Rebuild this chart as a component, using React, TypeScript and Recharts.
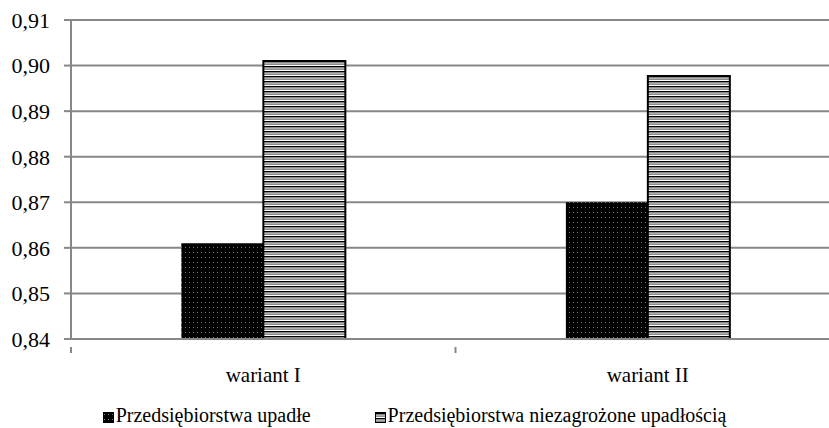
import React from 'react';
import { BarChart, Bar, XAxis, YAxis, CartesianGrid, Legend } from 'recharts';

const categories = ['wariant I', 'wariant II'];
const upadle = [0.861, 0.870];
const niezagrozone = [0.901, 0.8977];
const seriesNames = ['Przedsiębiorstwa upadłe', 'Przedsiębiorstwa niezagrożone upadłością'];
const yTicks = [0.84, 0.85, 0.86, 0.87, 0.88, 0.89, 0.9, 0.91];

const data = categories.map((c, i) => ({ name: c, upadle: upadle[i], niezagrozone: niezagrozone[i] }));

const FONT = 'Liberation Serif, Times New Roman, serif';
const GRID = '#878787';

const Patterns = () => (
  <svg width={0} height={0} style={{ position: 'absolute' }}>
    <defs>
      <pattern id="dotsPat" width={4} height={5} patternUnits="userSpaceOnUse">
        <rect width={4} height={5} fill="#000" />
        <rect x={1} y={2} width={1} height={1} fill="#7a7a7a" />
      </pattern>
      <pattern id="stripesPat" width={8} height={5} patternUnits="userSpaceOnUse">
        <rect width={8} height={5} fill="#8a8a8a" />
        <rect y={0} width={8} height={1} fill="#ffffff" />
        <rect y={1} width={8} height={1} fill="#000000" />
        <rect y={3} width={8} height={1} fill="#b0b0b0" />
      </pattern>
    </defs>
  </svg>
);

const XTick = (props: any) => {
  const { x, y, payload, index, width, visibleTicksCount } = props;
  const half = payload && typeof payload.offset === 'number' && payload.offset > 0
    ? payload.offset
    : width / (2 * (visibleTicksCount || categories.length));
  return (
    <g>
      {index === 0 && <line x1={x - half} y1={y} x2={x - half} y2={y + 6} stroke={GRID} strokeWidth={2} />}
      <line x1={x + half} y1={y} x2={x + half} y2={y + 6} stroke={GRID} strokeWidth={2} />
      <text x={x} y={y + 35} textAnchor="middle" fontFamily={FONT} fontSize={21} fill="#000">
        {payload.value}
      </text>
    </g>
  );
};

const YTick = (props: any) => {
  const { x, y, payload } = props;
  return (
    <text x={x} y={y} dy="0.36em" textAnchor="end" fontFamily={FONT} fontSize={22} fill="#000">
      {payload.value.toFixed(2).replace('.', ',')}
    </text>
  );
};

const LegendContent = () => (
  <div style={{ width: 829, height: 25, display: 'flex', justifyContent: 'center', gap: 64, fontFamily: FONT, fontSize: 20, color: '#000', lineHeight: '25px' }}>
    {seriesNames.map((n, i) => (
      <div key={n} style={{ display: 'flex', alignItems: 'center', gap: 2 }}>
        <svg width={11} height={11} style={{ marginTop: 3 }}>
          <rect x={0.5} y={0.5} width={10} height={10} fill={i === 0 ? 'url(#dotsPat)' : 'url(#stripesPat)'} stroke="#000" strokeWidth={1} />
        </svg>
        <span>{n}</span>
      </div>
    ))}
  </div>
);

export default function App() {
  return (
    <div style={{ position: 'fixed', left: 0, top: 0, width: 829, height: 428, overflow: 'hidden', background: '#fff', fontFamily: FONT }}>
      <Patterns />
      <BarChart
        width={845}
        height={428}
        data={data}
        margin={{ top: 20, right: 5, bottom: 0, left: 0 }}
        barCategoryGap="28.7%"
        barGap={0}
      >
        <CartesianGrid vertical={false} stroke={GRID} strokeWidth={2} />
        <XAxis
          dataKey="name"
          height={64}
          axisLine={{ stroke: GRID, strokeWidth: 2 }}
          tickLine={false}
          tick={<XTick />}
          interval={0}
        />
        <YAxis
          width={71}
          domain={[0.84, 0.91]}
          ticks={yTicks}
          interval={0}
          allowDataOverflow
          axisLine={{ stroke: GRID, strokeWidth: 2 }}
          tickLine={{ stroke: GRID, strokeWidth: 2 }}
          tickSize={7}
          tickMargin={14}
          tick={<YTick />}
        />
        <Legend verticalAlign="bottom" height={25} content={<LegendContent />} wrapperStyle={{ left: 0, width: 829 }} />
        <Bar dataKey="upadle" name={seriesNames[0]} fill="url(#dotsPat)" isAnimationActive={false} />
        <Bar dataKey="niezagrozone" name={seriesNames[1]} fill="url(#stripesPat)" stroke="#000" strokeWidth={2} isAnimationActive={false} />
      </BarChart>
    </div>
  );
}
